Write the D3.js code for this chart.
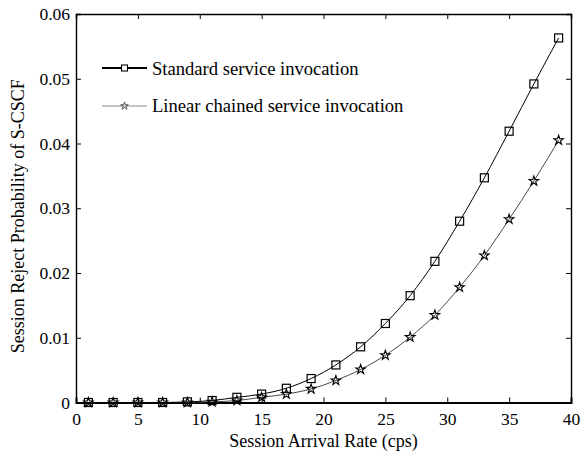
<!DOCTYPE html>
<html lang="en">
<head>
<meta charset="UTF-8">
<title>Session Reject Probability</title>
<script src="https://d3js.org/d3.v7.min.js"></script>
<style>
    body { margin: 0; background: #fff; }
    svg text { font-family: "Liberation Serif", "Times New Roman", serif; fill: #000; }
    .tick text { font-size: 17.5px; }
    .axis-label { font-size: 18px; }
    .legend-text { font-size: 18.6px; }
</style>
</head>
<body>
<svg id="chart" width="581" height="454"></svg>
<script>
    // x values (cps)
    let rates = [1, 3, 5, 7, 9, 11, 13, 15, 17, 19, 21, 23, 25, 27, 29, 31, 33, 35, 37, 39]
    // standard service invocation
    let standard = [0, 0, 0, 0, 0.0001, 0.0003, 0.0008, 0.0013, 0.0022, 0.0037, 0.0058, 0.0086,
        0.0122, 0.0165, 0.0218, 0.0280, 0.0347, 0.0419, 0.0492, 0.0563]
    // linear chained service invocation
    let chained = [0, 0, 0, 0, 0, 0.0001, 0.0003, 0.0008, 0.0013, 0.0021, 0.0034, 0.0051,
        0.0073, 0.0101, 0.0135, 0.0178, 0.0227, 0.0283, 0.0342, 0.0405]
    let xTicks = [0, 5, 10, 15, 20, 25, 30, 35, 40]
    let yTicks = [0, 0.01, 0.02, 0.03, 0.04, 0.05, 0.06]

    let svg = d3.select("#chart")
    let margin = { left: 76, right: 10, top: 14, bottom: 51.5 }
    let width = 581 - margin.left - margin.right
    let height = 454 - margin.top - margin.bottom

    let x = d3.scaleLinear().domain([0, 40]).range([0, width])
    let y = d3.scaleLinear().domain([0, 0.06]).range([height, 0])

    let g = svg.append("g").attr("transform", `translate(${margin.left},${margin.top})`)

    // axes with inward ticks (mirrored on top/right)
    let fmtY = d => d === 0 ? "0" : d3.format(".2f")(d)
    let axBottom = g.append("g").attr("transform", `translate(0,${height})`)
        .call(d3.axisBottom(x).tickValues(xTicks).tickSize(-5).tickPadding(10))
    let axLeft = g.append("g")
        .call(d3.axisLeft(y).tickValues(yTicks).tickFormat(fmtY).tickSize(-5).tickPadding(6))
    let axTop = g.append("g")
        .call(d3.axisTop(x).tickValues(xTicks).tickSize(-5).tickFormat(""))
    let axRight = g.append("g").attr("transform", `translate(${width},0)`)
        .call(d3.axisRight(y).tickValues(yTicks).tickSize(-5).tickFormat(""))
    ;[axBottom, axLeft, axTop, axRight].forEach(a => {
        a.select(".domain").attr("stroke", "#000").attr("stroke-width", 1.4)
        a.selectAll(".tick line").attr("stroke", "#000")
    })
    axBottom.select(".domain").attr("stroke-width", 2)

    // lines
    let line = d3.line().x((d, i) => x(rates[i])).y(d => y(d)).curve(d3.curveMonotoneX)
    g.append("path").attr("d", line(chained)).attr("fill", "none")
        .attr("stroke", "#333").attr("stroke-width", 0.9)
    g.append("path").attr("d", line(standard)).attr("fill", "none")
        .attr("stroke", "#000").attr("stroke-width", 1)

    let star = d3.symbol().type(d3.symbolStar).size(28)

    function squares(sel, data) {
        sel.selectAll("rect.sq").data(data).enter().append("rect")
            .attr("class", "sq")
            .attr("x", (d, i) => x(rates[i]) - 4)
            .attr("y", d => y(d) - 4)
            .attr("width", 8).attr("height", 8)
            .attr("fill", "none").attr("stroke", "#000").attr("stroke-width", 1.2)
    }
    function stars(sel, data) {
        sel.selectAll("path.st").data(data).enter().append("path")
            .attr("class", "st")
            .attr("d", star)
            .attr("transform", (d, i) => `translate(${x(rates[i])},${y(d)})`)
            .attr("fill", "none").attr("stroke", "#000").attr("stroke-width", 1.1)
    }
    stars(g, chained)
    squares(g, standard)

    // legend
    let legend = svg.append("g")
    let l1 = legend.append("g").attr("transform", "translate(102,68)")
    l1.append("line").attr("x1", 0).attr("x2", 45).attr("stroke", "#000").attr("stroke-width", 2)
    l1.append("rect").attr("x", 19.5).attr("y", -3).attr("width", 6).attr("height", 6)
        .attr("fill", "#fff").attr("stroke", "#000").attr("stroke-width", 1.1)
    l1.append("text").attr("class", "legend-text").attr("x", 50).attr("y", 7)
        .text("Standard service invocation")
    let l2 = legend.append("g").attr("transform", "translate(102,106)")
    l2.append("line").attr("x1", 0).attr("x2", 45).attr("stroke", "#888").attr("stroke-width", 1)
    l2.append("path").attr("d", d3.symbol().type(d3.symbolStar).size(18)).attr("transform", "translate(22.5,0)")
        .attr("fill", "none").attr("stroke", "#555").attr("stroke-width", 1)
    l2.append("text").attr("class", "legend-text").attr("x", 50).attr("y", 6)
        .text("Linear chained service invocation")

    // axis labels
    svg.append("text").attr("class", "axis-label")
        .attr("x", margin.left + width / 2).attr("y", 447)
        .attr("text-anchor", "middle")
        .text("Session Arrival Rate (cps)")
    svg.append("text").attr("class", "axis-label")
        .attr("transform", `translate(24,${margin.top + height / 2 + 8}) rotate(-90)`)
        .attr("text-anchor", "middle")
        .text("Session Reject Probability of S-CSCF")
</script>
</body>
</html>
